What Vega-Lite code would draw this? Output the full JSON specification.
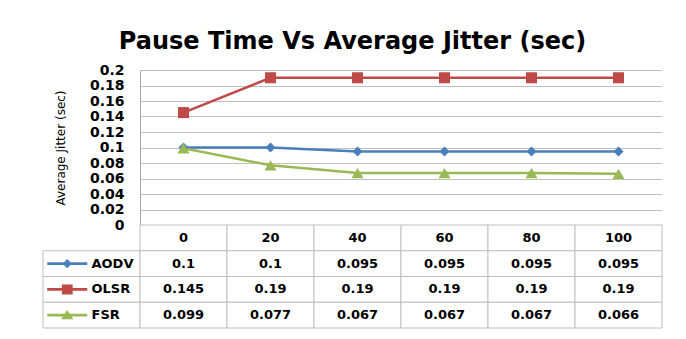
{
  "$schema": "https://vega.github.io/schema/vega-lite/v6.json",
  "padding": {"left": 42, "top": 30, "right": 25, "bottom": 6},
  "background": "white",
  "title": {"text": "Pause Time Vs Average Jitter (sec)", "font": "DejaVu Sans", "fontSize": 24, "fontWeight": "bold", "color": "#000000", "anchor": "middle", "offset": 9},
  "data": {"values": [
    {"pause": 0, "protocol": "AODV", "jitter": 0.1},
    {"pause": 20, "protocol": "AODV", "jitter": 0.1},
    {"pause": 40, "protocol": "AODV", "jitter": 0.095},
    {"pause": 60, "protocol": "AODV", "jitter": 0.095},
    {"pause": 80, "protocol": "AODV", "jitter": 0.095},
    {"pause": 100, "protocol": "AODV", "jitter": 0.095},
    {"pause": 0, "protocol": "OLSR", "jitter": 0.145},
    {"pause": 20, "protocol": "OLSR", "jitter": 0.19},
    {"pause": 40, "protocol": "OLSR", "jitter": 0.19},
    {"pause": 60, "protocol": "OLSR", "jitter": 0.19},
    {"pause": 80, "protocol": "OLSR", "jitter": 0.19},
    {"pause": 100, "protocol": "OLSR", "jitter": 0.19},
    {"pause": 0, "protocol": "FSR", "jitter": 0.099},
    {"pause": 20, "protocol": "FSR", "jitter": 0.077},
    {"pause": 40, "protocol": "FSR", "jitter": 0.067},
    {"pause": 60, "protocol": "FSR", "jitter": 0.067},
    {"pause": 80, "protocol": "FSR", "jitter": 0.067},
    {"pause": 100, "protocol": "FSR", "jitter": 0.066}
  ]},
  "columns": 2,
  "spacing": 0,
  "bounds": "flush",
  "align": "each",
  "config": {"view": {"stroke": null}, "font": "DejaVu Sans"},
  "resolve": {"scale": {"x": "independent", "y": "independent", "shape": "independent", "size": "independent"}},
  "concat": [
    {
      "width": 97, "height": 155,
      "data": {"values": [{"a": 0}]},
      "mark": {"type": "point", "opacity": 0},
      "encoding": {}
    },
    {
      "width": 522, "height": 155,
      "encoding": {
        "x": {"field": "pause", "type": "ordinal", "scale": {"type": "point", "padding": 0.5}, "axis": null},
        "y": {"field": "jitter", "type": "quantitative",
          "scale": {"domain": [0, 0.2], "nice": false, "zero": true},
          "axis": {"values": [0, 0.02, 0.04, 0.06, 0.08, 0.1, 0.12, 0.14, 0.16, 0.18, 0.2], "format": ".2~f",
            "title": "Average Jitter (sec)", "titleFont": "DejaVu Sans", "titleFontSize": 12, "titleFontWeight": "normal", "titleColor": "#000000", "titlePadding": 22,
            "labelFont": "DejaVu Sans", "labelFontSize": 14, "labelFontWeight": "bold", "labelColor": "#000000", "labelPadding": 16,
            "labelFlush": false, "labelOverlap": false, "ticks": false,
            "domainColor": "#a6a6a6", "grid": true, "gridColor": "#bfbfbf", "gridWidth": 1}},
        "color": {"field": "protocol", "type": "nominal", "scale": {"domain": ["AODV", "OLSR", "FSR"], "range": ["#4a7ebb", "#be4b48", "#98b954"]}, "legend": null}
      },
      "layer": [
        {"mark": {"type": "line", "strokeWidth": 2.5}},
        {"mark": {"type": "point", "filled": true, "opacity": 1},
          "encoding": {
            "shape": {"field": "protocol", "type": "nominal", "scale": {"domain": ["AODV", "OLSR", "FSR"], "range": ["diamond", "square", "triangle-up"]}, "legend": null},
            "size": {"field": "protocol", "type": "nominal", "scale": {"domain": ["AODV", "OLSR", "FSR"], "range": [100, 144, 160]}, "legend": null}
          }}
      ]
    },
    {
      "width": 97, "height": 103,
      "transform": [{"filter": "datum.pause == 0"}],
      "encoding": {
        "y": {"field": "protocol", "type": "nominal", "scale": {"domain": ["hdr", "AODV", "OLSR", "FSR"], "paddingInner": 0, "paddingOuter": 0}, "axis": null}
      },
      "layer": [
        {"mark": {"type": "rect", "fill": "white", "stroke": "#bfbfbf", "strokeWidth": 1}},
        {"mark": {"type": "point", "filled": true, "opacity": 1, "size": 1600},
          "encoding": {
            "x": {"datum": "glyph", "type": "nominal", "scale": {"type": "band", "domain": ["glyph", "label"], "paddingInner": 0, "paddingOuter": 0}, "axis": null},
            "color": {"field": "protocol", "type": "nominal", "scale": {"domain": ["AODV", "OLSR", "FSR"], "range": ["#4a7ebb", "#be4b48", "#98b954"]}, "legend": null},
            "shape": {"field": "protocol", "type": "nominal", "scale": {"domain": ["AODV", "OLSR", "FSR"], "range": [
              "M-1,-0.065H1V0.065H-1Z M0,-0.23L0.23,0L0,0.23L-0.23,0Z",
              "M-1,-0.065H1V0.065H-1Z M-0.27,-0.25H0.27V0.25H-0.27Z",
              "M-1,-0.065H1V0.065H-1Z M0,-0.26L0.31,0.2L-0.31,0.2Z"]}, "legend": null}
          }},
        {"mark": {"type": "text", "align": "left", "baseline": "middle", "fontWeight": "bold", "fontSize": 13, "font": "DejaVu Sans", "color": "#000000"},
          "encoding": {
            "x": {"datum": "label", "type": "nominal", "bandPosition": 0},
            "text": {"field": "protocol", "type": "nominal"}
          }}
      ]
    },
    {
      "width": 522, "height": 103,
      "layer": [
        {"transform": [{"filter": "datum.protocol == 'AODV'"}],
          "mark": {"type": "rect", "fill": "white", "stroke": "#bfbfbf", "strokeWidth": 1},
          "encoding": {
            "x": {"field": "pause", "type": "ordinal", "scale": {"type": "band", "paddingInner": 0, "paddingOuter": 0}, "axis": null},
            "y": {"datum": "hdr", "type": "nominal", "scale": {"domain": ["hdr", "AODV", "OLSR", "FSR"], "paddingInner": 0, "paddingOuter": 0}, "axis": null}
          }},
        {"transform": [{"filter": "datum.protocol == 'AODV'"}],
          "mark": {"type": "text", "baseline": "middle", "fontWeight": "bold", "fontSize": 13, "font": "DejaVu Sans", "color": "#000000"},
          "encoding": {
            "x": {"field": "pause", "type": "ordinal"},
            "y": {"datum": "hdr", "type": "nominal"},
            "text": {"field": "pause", "type": "nominal"}
          }},
        {"mark": {"type": "rect", "fill": "white", "stroke": "#bfbfbf", "strokeWidth": 1},
          "encoding": {
            "x": {"field": "pause", "type": "ordinal"},
            "y": {"field": "protocol", "type": "nominal"}
          }},
        {"mark": {"type": "text", "baseline": "middle", "fontWeight": "bold", "fontSize": 13, "font": "DejaVu Sans", "color": "#000000"},
          "encoding": {
            "x": {"field": "pause", "type": "ordinal"},
            "y": {"field": "protocol", "type": "nominal"},
            "text": {"field": "jitter", "type": "nominal"}
          }}
      ]
    }
  ]
}
